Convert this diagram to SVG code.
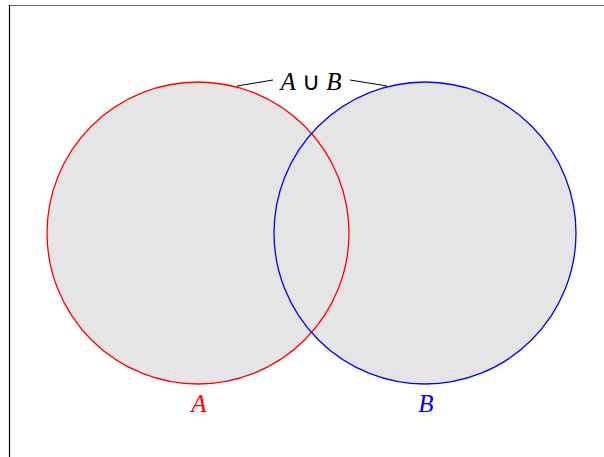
<svg xmlns="http://www.w3.org/2000/svg" width="604" height="457" viewBox="0 0 604 457">
<style>
.fill{fill:#e5e5e5;stroke:none}
.lbl{font-family:"Liberation Serif",serif;font-size:25px;text-anchor:middle}
.it{font-style:italic}
.lead{stroke:#000;stroke-width:1;fill:none}
</style>
<rect x="0" y="0" width="604" height="457" fill="#fff"/>
<line x1="9" y1="5.5" x2="604" y2="5.5" stroke="#666" stroke-width="1.2"/>
<line x1="9.5" y1="5" x2="9.5" y2="457" stroke="#000" stroke-width="1.2"/>
<g id="fills">
<circle class="fill" cx="198" cy="233" r="151"/>
<circle class="fill" cx="425" cy="233" r="151"/>
</g>
<g id="A">
<circle cx="198" cy="233" r="151" fill="none" stroke="#ff0000" stroke-width="1.3"/>
<text class="lbl it" x="199" y="412" fill="#ff0000">A</text>
</g>
<g id="B">
<circle cx="425" cy="233" r="151" fill="none" stroke="#0000ff" stroke-width="1.3"/>
<text class="lbl it" x="426" y="412" fill="#0000ff">B</text>
</g>
<g id="connectors">
<line class="lead" x1="237" y1="86" x2="273" y2="80"/>
<line class="lead" x1="350" y1="80" x2="387" y2="86"/>
</g>
<g id="union">
<text class="lbl" x="311" y="90"><tspan class="it">A</tspan> ∪ <tspan class="it">B</tspan></text>
</g>
</svg>
